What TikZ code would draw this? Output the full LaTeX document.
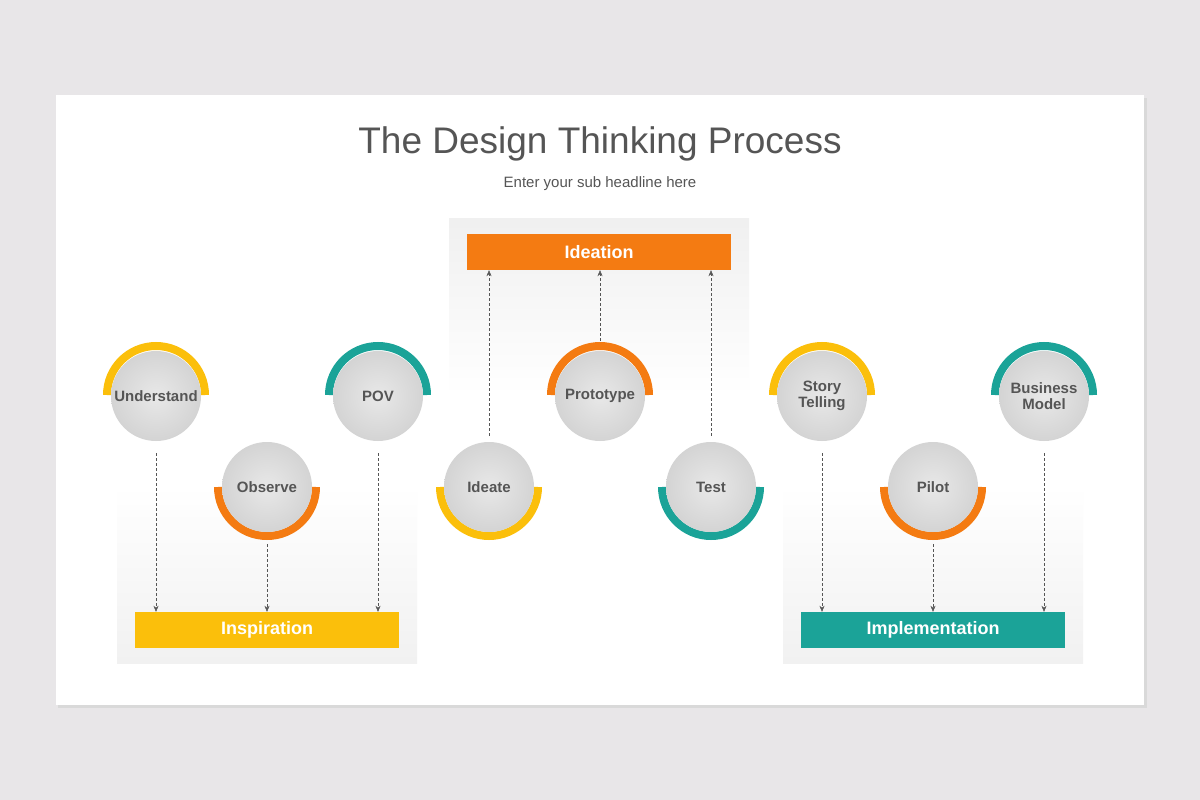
\documentclass[tikz,border=0pt]{standalone}
\usepackage{fontspec}
\setmainfont{Liberation Sans}
\usetikzlibrary{arrows.meta,calc,shadows}
\definecolor{dtyellow}{HTML}{FBBF0B}
\definecolor{dtorange}{HTML}{F47B12}
\definecolor{dtteal}{HTML}{1BA398}
\definecolor{dttext}{HTML}{555555}
\definecolor{dtback}{HTML}{E8E6E8}

\begin{document}
\begin{tikzpicture}[x=1pt,y=-1pt]
  % Estilos
  \tikzset{
    ball/.style={circle, minimum size=90pt, inner sep=0pt, text=dttext, font=\bfseries\fontsize{15}{16}\selectfont, align=center, inner color=gray!18, outer color=gray!34},
    bar/.style={minimum width=264pt, minimum height=36pt, inner sep=0pt, text=white, font=\bfseries\fontsize{18}{18}\selectfont},
    link/.style={densely dashed, dttext, thin, -{Stealth[length=6pt,width=5pt]}},
    ring/.style={line width=8pt}
  }

  % Fondo y diapositiva
  \fill[dtback] (0,0) rectangle (1200,800);
  \useasboundingbox (0,0) rectangle (1200,800);
  \fill[gray!30] (58,98) rectangle (1147,708);
  \fill[white] (56,95) rectangle (1144,705);

  % Titulo
  \node[text=dttext, font=\fontsize{37}{40}\selectfont] (title) at (600,144) {The Design Thinking Process};
  \node[text=dttext, font=\fontsize{15}{16}\selectfont] (sub) at (600,184) {Enter your sub headline here};

  % Paneles
  \shade[top color=gray!12, bottom color=white] (449,218) rectangle (749,395);
  \shade[top color=white, bottom color=gray!11] (117,485) rectangle (417,663);
  \shade[top color=white, bottom color=gray!11] (783,485) rectangle (1083,663);

  \node[bar, fill=dtorange] (idea) at (599,252) {Ideation};
  \node[bar, fill=dtyellow] (insp) at (267,630) {Inspiration};
  \node[bar, fill=dtteal] (impl) at (933,630) {Implementation};

  % Anillos superiores
  \foreach \x/\c in {156/dtyellow, 378/dtteal, 600/dtorange, 822/dtyellow, 1044/dtteal}
    \draw[ring, \c] (\x-49,395) arc[start angle=180, end angle=360, radius=49];
  % Anillos inferiores
  \foreach \x/\c in {267/dtorange, 489/dtyellow, 711/dtteal, 933/dtorange}
    \draw[ring, \c] (\x-49,487) arc[start angle=180, end angle=0, radius=49];

  % Circulos
  \node[ball] (und) at (156,396) {Understand};
  \node[ball] (pov) at (378,396) {POV};
  \node[ball] (proto) at (600,396) {Prototype};
  \node[ball] (story) at (822,396) {Story\\Telling};
  \node[ball] (biz) at (1044,396) {Business\\Model};
  \node[ball] (obs) at (267,487) {Observe};
  \node[ball] (ideate) at (489,487) {Ideate};
  \node[ball] (test) at (711,487) {Test};
  \node[ball] (pilot) at (933,487) {Pilot};

  % Conectores
  \foreach \n in {und, obs, pov}
    \draw[link] ($(\n.south)+(0,12)$) -- (\n.south |- insp.north);
  \foreach \n in {story, pilot, biz}
    \draw[link] ($(\n.south)+(0,12)$) -- (\n.south |- impl.north);
  \foreach \n in {ideate, test}
    \draw[link] ($(\n.north)+(0,-6)$) -- (\n.north |- idea.south);
  \draw[link] ($(proto.north)+(0,-10)$) -- (proto.north |- idea.south);
\end{tikzpicture}
\end{document}
